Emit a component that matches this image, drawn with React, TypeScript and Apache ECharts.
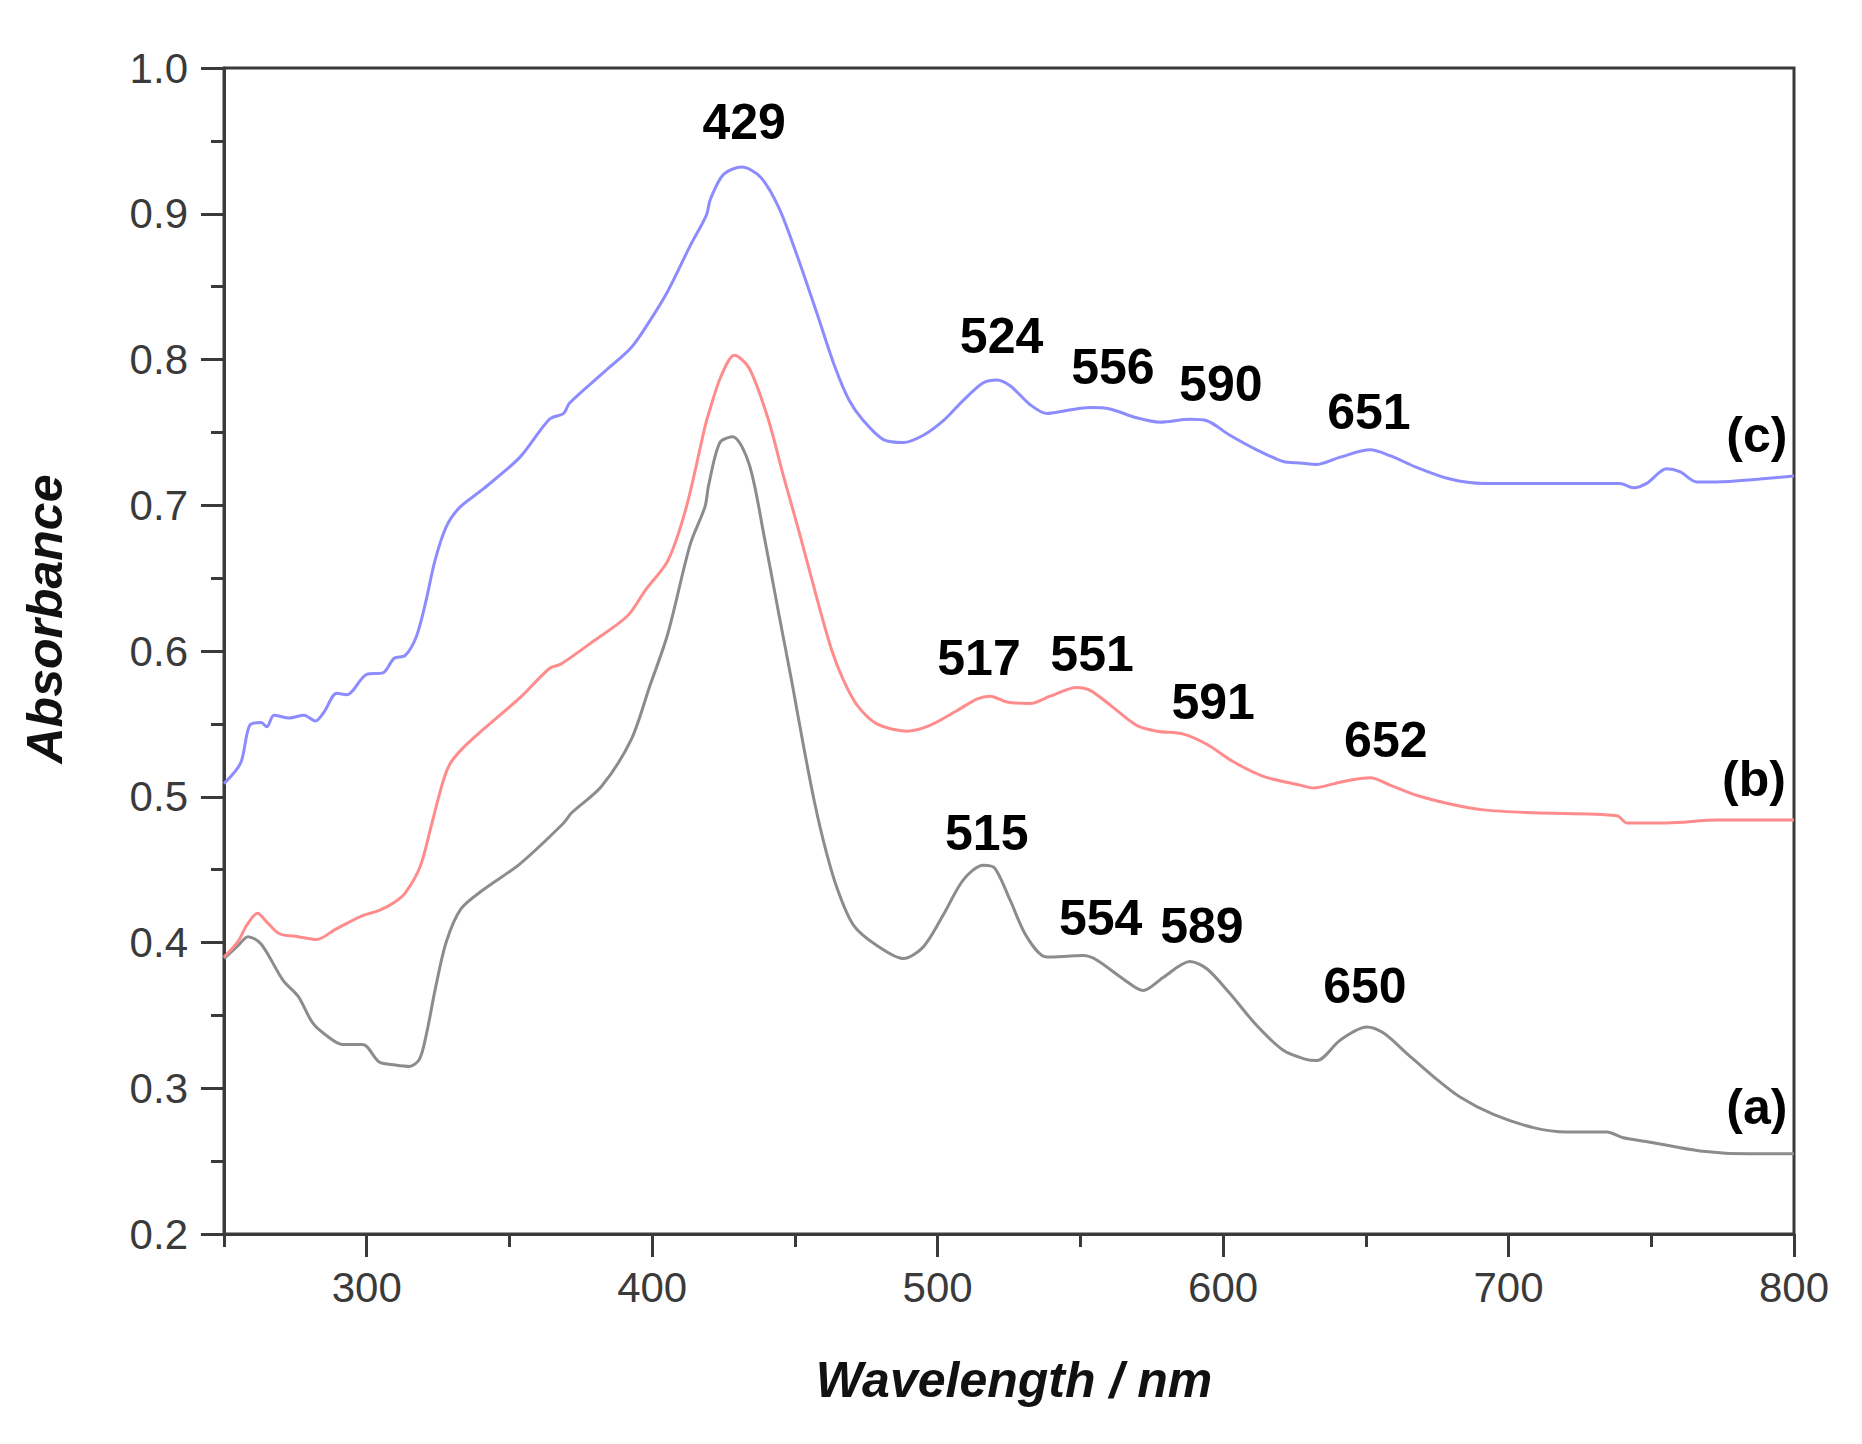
import React, { useEffect, useRef } from "react";
import * as echarts from "echarts";

const FONT = '"Liberation Sans", Arial, Helvetica, sans-serif';

// Curve (a) – grey
const aWl = [250, 255, 258.4, 263, 270.7, 276, 281, 286, 291.5, 298.6, 304.4, 310, 315, 318.5, 321, 323.9, 327.8, 333, 340.7, 353.7, 369, 371.8, 382.2, 392.6, 399, 405.5, 413.3, 418.5, 419.8, 423.7, 428.2, 434, 439.2, 444.4, 449, 453, 457, 461, 465, 470.5, 478.7, 488, 495, 502, 509, 516, 520, 525.4, 531.2, 538.2, 551, 555.7, 565, 572, 579, 588.4, 594.3, 602.4, 611.8, 621.1, 628.7, 632.8, 641, 650.3, 656.1, 664.3, 673.7, 683, 694.7, 708.7, 720.4, 734.4, 740.2, 749.6, 767, 784.6, 800];
const aAbs = [0.389, 0.398, 0.404, 0.399, 0.374, 0.363, 0.345, 0.336, 0.330, 0.330, 0.318, 0.316, 0.315, 0.320, 0.338, 0.367, 0.400, 0.423, 0.436, 0.454, 0.482, 0.489, 0.507, 0.539, 0.575, 0.612, 0.673, 0.699, 0.714, 0.743, 0.747, 0.728, 0.679, 0.625, 0.578, 0.535, 0.495, 0.462, 0.436, 0.412, 0.398, 0.389, 0.397, 0.419, 0.443, 0.453, 0.451, 0.429, 0.404, 0.390, 0.391, 0.388, 0.375, 0.367, 0.376, 0.387, 0.382, 0.365, 0.343, 0.326, 0.320, 0.319, 0.333, 0.342, 0.338, 0.324, 0.308, 0.294, 0.282, 0.273, 0.270, 0.270, 0.266, 0.263, 0.257, 0.255, 0.255];

// Curve (b) – red
const bWl = [250, 255, 258, 261.7, 265, 269.4, 276, 282.4, 289, 298, 304.4, 310, 313.5, 318.7, 322.6, 326.5, 329, 333, 340.7, 353.7, 364, 368, 379.6, 391.3, 397.7, 405.5, 412, 418.5, 419.8, 424, 428.8, 434, 440.5, 446, 452, 458, 463, 467, 471.7, 478.7, 489.2, 497.3, 506.7, 513.7, 518.4, 524.2, 532.4, 539.4, 548.7, 553.4, 560.4, 569.7, 576.8, 586.1, 594.3, 603.6, 614.1, 627, 631.6, 641, 651.5, 658.5, 667.8, 679.5, 691.2, 708.7, 738, 741.4, 755.4, 773, 800];
const bAbs = [0.390, 0.401, 0.412, 0.420, 0.414, 0.406, 0.404, 0.402, 0.409, 0.418, 0.422, 0.428, 0.434, 0.452, 0.480, 0.509, 0.522, 0.532, 0.546, 0.568, 0.588, 0.591, 0.607, 0.624, 0.642, 0.662, 0.699, 0.754, 0.763, 0.788, 0.803, 0.794, 0.760, 0.720, 0.678, 0.634, 0.600, 0.580, 0.563, 0.550, 0.545, 0.549, 0.559, 0.567, 0.569, 0.565, 0.564, 0.569, 0.575, 0.573, 0.563, 0.549, 0.545, 0.543, 0.536, 0.524, 0.514, 0.508, 0.506, 0.510, 0.513, 0.508, 0.501, 0.495, 0.491, 0.489, 0.487, 0.482, 0.482, 0.484, 0.484];

// Curve (c) – blue
const cWl = [250, 255.8, 259, 263, 265, 267.5, 273, 278, 282, 285, 289.5, 293, 300, 305.7, 309.6, 313.5, 317.4, 320.6, 323.9, 327.8, 332.3, 340.7, 353.7, 364, 369, 371, 383.5, 392.6, 399, 405.5, 413.3, 419, 420.4, 425, 431.4, 438, 444.4, 451, 458, 464, 469, 474, 481, 488, 495, 502, 509, 516, 520.7, 525.4, 532.4, 538.2, 545.2, 553.4, 560.4, 569.7, 577.9, 588.4, 594.3, 602.4, 611.8, 621.1, 627, 632.8, 641, 651.5, 658.5, 667.8, 679.5, 691.2, 708.7, 739, 743.7, 748.4, 755.4, 760, 766, 773, 788, 800];
const cAbs = [0.509, 0.523, 0.549, 0.551, 0.548, 0.556, 0.554, 0.556, 0.552, 0.558, 0.571, 0.570, 0.584, 0.585, 0.595, 0.597, 0.610, 0.633, 0.662, 0.685, 0.698, 0.711, 0.733, 0.759, 0.763, 0.770, 0.792, 0.808, 0.826, 0.847, 0.878, 0.899, 0.910, 0.927, 0.932, 0.925, 0.904, 0.870, 0.830, 0.795, 0.772, 0.758, 0.745, 0.743, 0.748, 0.758, 0.772, 0.784, 0.786, 0.782, 0.769, 0.763, 0.765, 0.767, 0.766, 0.760, 0.757, 0.759, 0.758, 0.748, 0.738, 0.730, 0.729, 0.728, 0.733, 0.738, 0.734, 0.726, 0.718, 0.715, 0.715, 0.715, 0.712, 0.715, 0.725, 0.723, 0.716, 0.716, 0.718, 0.720];

// Peak annotations (text, wavelength, absorbance where the label sits)
const peakText = ["429", "524", "556", "590", "651", "517", "551", "591", "652", "515", "554", "589", "650"];
const peakWl = [432.2, 522.4, 561.4, 599.2, 651.1, 514.5, 554.1, 596.5, 657, 517.2, 557.1, 592.6, 649.7];
const peakAbs = [0.963, 0.816, 0.795, 0.783, 0.764, 0.595, 0.598, 0.565, 0.539, 0.475, 0.417, 0.411, 0.370];

// Curve tags
const tagText = ["(c)", "(b)", "(a)"];
const tagWl = [787, 786, 787];
const tagAbs = [0.748, 0.512, 0.287];

const xMajorTicks = [300, 400, 500, 600, 700, 800];
const xMinorTicks = [250, 350, 450, 550, 650, 750];

const AXIS_COLOR = "#3a3a3a";

function pairs(x: number[], y: number[]) {
  return x.map((v, i) => [v, y[i]]);
}

export default function App() {
  const ref = useRef<HTMLDivElement>(null);

  useEffect(() => {
    if (!ref.current) return;
    const chart = echarts.init(ref.current, null, { renderer: "svg" });
    const axisLine = { lineStyle: { color: AXIS_COLOR, width: 3 } };

    const lineSeries = (data: number[][], color: string) => ({
      type: "line",
      data,
      xAxisIndex: 0,
      yAxisIndex: 0,
      showSymbol: false,
      symbol: "none",
      smooth: 0.3,
      lineStyle: { color, width: 3 },
      silent: true,
      z: 3,
    });

    const labelSeries = (text: string[], wl: number[], ab: number[]) => ({
      type: "scatter",
      xAxisIndex: 0,
      yAxisIndex: 0,
      data: wl.map((w, i) => [w, ab[i], text[i]]),
      symbolSize: 1,
      itemStyle: { color: "rgba(255,255,255,0)" },
      silent: true,
      z: 5,
      label: {
        show: true,
        position: "inside",
        formatter: (p: any) => p.data[2],
        fontSize: 50,
        fontWeight: "bold",
        fontFamily: FONT,
        color: "#000000",
        opacity: 1,
        textBorderWidth: 0,
        align: "center",
        verticalAlign: "middle",
      },
    });

    chart.setOption({
      animation: false,
      backgroundColor: "#ffffff",
      grid: {
        left: 224,
        top: 68,
        width: 1570,
        height: 1166,
        show: true,
        borderColor: AXIS_COLOR,
        borderWidth: 3,
        backgroundColor: "transparent",
        containLabel: false,
      },
      xAxis: [
        {
          type: "value",
          min: 250,
          max: 800,
          position: "bottom",
          axisLine: { show: true, onZero: false, ...axisLine },
          axisTick: { show: true, length: 23, customValues: xMajorTicks, lineStyle: { color: AXIS_COLOR, width: 3 } },
          axisLabel: {
            show: true,
            customValues: xMajorTicks,
            margin: 32,
            fontSize: 42,
            fontFamily: FONT,
            color: "#3a3a3a",
          },
          splitLine: { show: false },
        },
        {
          type: "value",
          min: 250,
          max: 800,
          position: "bottom",
          axisLine: { show: false, onZero: false },
          axisTick: { show: true, length: 13, customValues: xMinorTicks, lineStyle: { color: AXIS_COLOR, width: 3 } },
          axisLabel: { show: false },
          splitLine: { show: false },
        },
      ],
      yAxis: {
        type: "value",
        min: 0.2,
        max: 1.0,
        interval: 0.1,
        axisLine: { show: true, onZero: false, ...axisLine },
        axisTick: { show: true, length: 23, lineStyle: { color: AXIS_COLOR, width: 3 } },
        minorTick: { show: true, splitNumber: 2, length: 13, lineStyle: { color: AXIS_COLOR, width: 3 } },
        minorSplitLine: { show: false },
        splitLine: { show: false },
        axisLabel: {
          margin: 36,
          fontSize: 42,
          fontFamily: FONT,
          color: "#3a3a3a",
          formatter: (v: number) => v.toFixed(1),
        },
      },
      graphic: [
        {
          type: "text",
          x: 45,
          y: 619,
          rotation: Math.PI / 2,
          style: {
            text: "Absorbance",
            font: `italic bold 50px ${FONT}`,
            fill: "#111",
            textAlign: "center",
            textVerticalAlign: "middle",
          },
        },
        {
          type: "text",
          x: 1014,
          y: 1380,
          style: {
            text: "Wavelength / nm",
            font: `italic bold 50px ${FONT}`,
            fill: "#111",
            textAlign: "center",
            textVerticalAlign: "middle",
          },
        },
      ],
      series: [
        lineSeries(pairs(aWl, aAbs), "#8c8c8c"),
        lineSeries(pairs(bWl, bAbs), "#ff8c8c"),
        lineSeries(pairs(cWl, cAbs), "#8c8cff"),
        labelSeries(peakText, peakWl, peakAbs),
        labelSeries(tagText, tagWl, tagAbs),
      ],
    });

    return () => chart.dispose();
  }, []);

  return (
    <div
      ref={ref}
      style={{ position: "absolute", left: 0, top: 0, width: 1862, height: 1444, background: "#fff" }}
    />
  );
}
